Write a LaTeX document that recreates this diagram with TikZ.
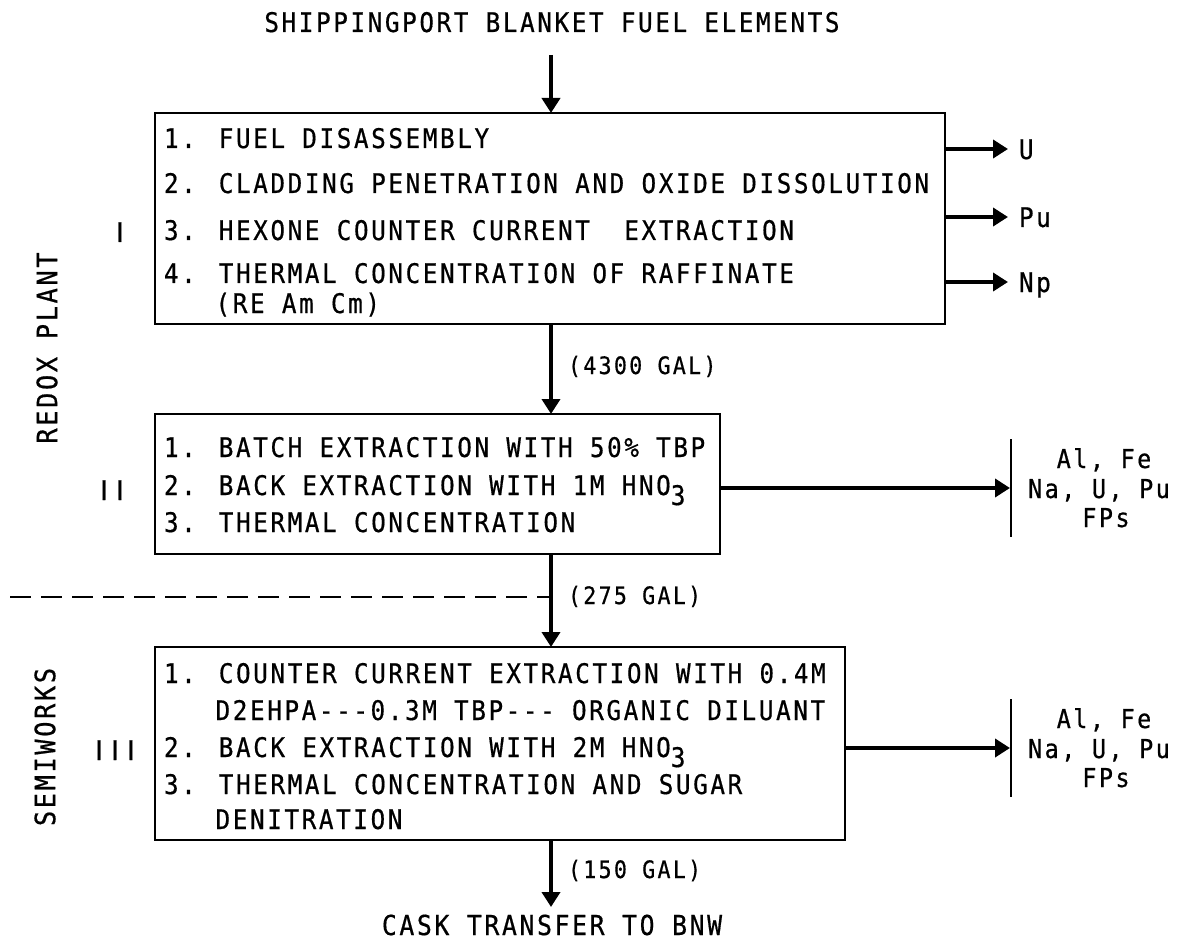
\documentclass[tikz,border=0pt]{standalone}
\usepackage{fontspec}
\setmainfont{DejaVu Sans Mono}[LetterSpace=9.6,FakeStretch=0.9,FakeBold=0.6,Ligatures=TeXOff]
\newfontfamily\romanfont{DejaVu Sans}[LetterSpace=30,FakeBold=0.6]
\usetikzlibrary{arrows.meta}
\begin{document}
\begin{tikzpicture}[x=1pt,y=-1pt,
  every node/.style={inner sep=0pt,outer sep=0pt,font=\fontsize{27}{30}\selectfont},
  stepbox/.style={draw,line width=2.5pt,anchor=north west},
  txt/.style={anchor=base west},
  lbl/.style={anchor=base},
  numeral/.style={anchor=base,font=\romanfont\fontsize{27}{30}\selectfont},
  side/.style={anchor=base,font=\fontsize{26}{30}\selectfont},
  gal/.style={anchor=base west,font=\fontsize{24}{28}\selectfont},
  flow/.style={line width=4.5pt,-{Triangle[length=15pt,width=18pt]}},
  bar/.style={line width=1.5pt},
  dashline/.style={line width=1.5pt,dash pattern=on 21pt off 10pt}]
\useasboundingbox (0,0) rectangle (1180,941);

% title and top arrow
\node[lbl] (title) at (552,32) {SHIPPINGPORT BLANKET FUEL ELEMENTS};
\coordinate (top) at (551,55);

% boxes
\node[stepbox,minimum width=790pt,minimum height=211pt] (b1) at (155,113) {};
\node[stepbox,minimum width=565pt,minimum height=140pt] (b2) at (155,414) {};
\node[stepbox,minimum width=690pt,minimum height=193pt] (b3) at (155,647) {};

% box I text
\node[txt] (t11) at (164,148) {1. FUEL DISASSEMBLY};
\node[txt] (t12) at (164,193) {2. CLADDING PENETRATION AND OXIDE DISSOLUTION};
\node[txt] (t13) at (164,240) {3. HEXONE COUNTER CURRENT\ \ EXTRACTION};
\node[txt] (t14) at (164,283) {4. THERMAL CONCENTRATION OF RAFFINATE};
\node[txt] (t15) at (215.6,313) {(RE Am Cm)};

% box II text
\node[txt] (t21) at (164,457) {1. BATCH EXTRACTION WITH 50\% TBP};
\node[txt] (t22) at (164,495) {2. BACK EXTRACTION WITH 1M HNO\raisebox{-10pt}{3}};
\node[txt] (t23) at (164,532) {3. THERMAL CONCENTRATION};

% box III text
\node[txt] (t31) at (164,683) {1. COUNTER CURRENT EXTRACTION WITH 0.4M};
\node[txt] (t32) at (215.6,720) {D2EHPA---0.3M TBP--- ORGANIC DILUANT};
\node[txt] (t33) at (164,757) {2. BACK EXTRACTION WITH 2M HNO\raisebox{-10pt}{3}};
\node[txt] (t34) at (164,794) {3. THERMAL CONCENTRATION AND SUGAR};
\node[txt] (t35) at (215.6,829) {DENITRATION};

% roman numerals and side labels
\node[numeral] (r1) at (120,242) {I};
\node[numeral] (r2) at (112,500) {II};
\node[numeral] (r3) at (115,760) {III};
\node[rotate=90,font=\fontsize{28}{30}\selectfont] (redox) at (47,348) {REDOX PLANT};
\node[rotate=90,font=\fontsize{28}{30}\selectfont] (semi) at (45,747) {SEMIWORKS};

% main flow
\draw[flow] (top) -- (top |- b1.north);
\draw[flow] (b1.south -| top) -- (b2.north -| top);
\draw[flow] (b2.south -| top) -- (b3.north -| top);
\coordinate (bot) at (551,907);
\draw[flow] (b3.south -| top) -- (bot);
\node[gal] (g1) at (568,374) {(4300 GAL)};
\node[gal] (g2) at (568,604) {(275 GAL)};
\node[gal] (g3) at (568,878) {(150 GAL)};
\node[lbl,font=\fontsize{27.5}{30}\selectfont] (cask) at (552,935) {CASK TRANSFER TO BNW};

% dashed separator
\coordinate (dl) at (10,597);
\draw[dashline] (dl) -- (dl -| top);

% outputs of box I
\coordinate (uE) at (1008,149);
\coordinate (puE) at (1008,217);
\coordinate (npE) at (1008,282);
\draw[flow] (b1.east |- uE) -- (uE);
\draw[flow] (b1.east |- puE) -- (puE);
\draw[flow] (b1.east |- npE) -- (npE);
\node[txt] (U) at (1019,159) {U};
\node[txt] (Pu) at (1019,227) {Pu};
\node[txt] (Np) at (1019,292) {Np};

% outputs of box II
\coordinate (a2) at (1010,488);
\draw[flow] (b2.east |- a2) -- (a2);
\coordinate (bar2t) at (1011,439);
\coordinate (bar2b) at (1011,537);
\draw[bar] (bar2t) -- (bar2b);
\node[side] (w21) at (1104,468) {Al, Fe};
\node[side] (w22) at (1099,498) {Na, U, Pu};
\node[side] (w23) at (1106,527) {FPs};

% outputs of box III
\coordinate (a3) at (1010,748);
\draw[flow] (b3.east |- a3) -- (a3);
\coordinate (bar3t) at (1011,699);
\coordinate (bar3b) at (1011,797);
\draw[bar] (bar3t) -- (bar3b);
\node[side] (w31) at (1104,728) {Al, Fe};
\node[side] (w32) at (1099,758) {Na, U, Pu};
\node[side] (w33) at (1106,787) {FPs};
\end{tikzpicture}
\end{document}
